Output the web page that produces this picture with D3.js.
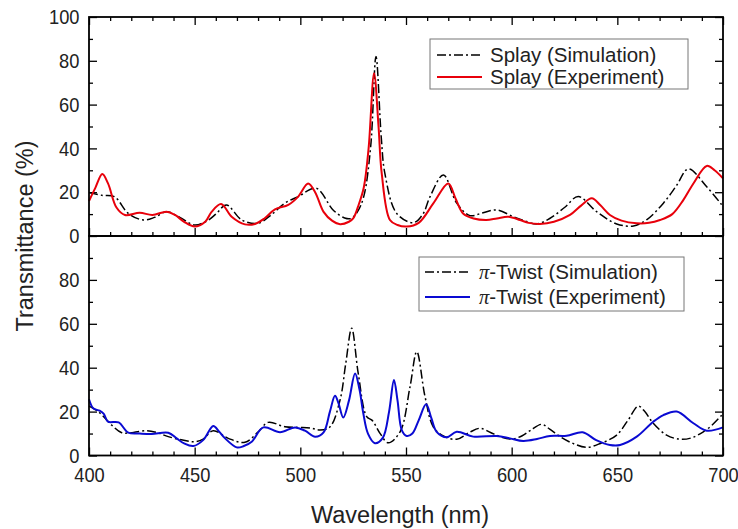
<!DOCTYPE html>
<html>
<head>
<meta charset="utf-8">
<script src="https://cdn.jsdelivr.net/npm/d3@7"></script>
<style>
  body { margin: 0; background: #fff; }
  svg { font-family: "Liberation Sans", Arial, sans-serif; }
  .tick text { fill: #222; }
</style>
</head>
<body>
<svg id="chart" width="738" height="529"></svg>
<script>
// wavelength (nm) / transmittance (%)
var splaySimWl = [400,406,412,418.6,425.7,431,436.7,443,450,456,460,465,472.3,480,486,492.7,499,507.5,515.5,521,524,527,530,533.3,535.8,538.3,540,545.6,553.5,558,561.4,567.7,574,580.3,586,592.9,600.8,606,611.8,618,625,631.5,640.2,649.7,657.6,664,671.8,678,683.6,692.3,700];
var splaySimT  = [19.8,18.6,18,10.3,7.3,8.5,11.1,8.5,5,7,10,14.2,7.3,5.8,9.5,15,18,21.8,11.9,8.2,8,11,18,41,82,45,28.6,10.3,6.1,10,18,27.9,15,9.3,10.5,11.9,8.8,7,5.5,8,13,18,11.1,5.5,4.6,7.5,15,23,30.6,22.5,13.5];

var splayExpWl = [400,403,406.3,409,413,417,424,430,436.7,440.7,445,450,455,458,462.5,467.5,473.8,478.5,483,488,494.3,499,503.7,507,511,515,518.8,523,525,527.3,530,532.3,534.9,537,538.5,542.4,546,550.3,556,563,570,573.5,577,582,588,593,598.4,604,608,613.4,620,627.6,633,637.9,642,646.5,652,659.2,665,670.2,676,681.2,686,692.3,696,700];
var splayExpT  = [16,22,28.3,24,13,9.6,10.6,9.6,11.1,9.6,6.5,4.3,6.5,11,14.6,8.8,5.3,5.5,8,12.2,14.2,18,24,20,11,7,5.4,6.5,8,13.4,22,40,74.3,50,28.7,7.3,5,4.3,6,15,24,17,10.3,8,7.3,8,8.8,7.3,6,5.5,6.5,9.6,14,17.2,14,9.6,7,5.8,6,7.3,10,16.4,24,32,30,26.3];

var twistSimWl = [400,404.4,410.7,415.5,421,427.3,432,437.5,445.4,450,454,458.8,465.9,473.8,480.1,484.8,492.7,499,505,509.3,514,518.8,521.5,524.3,527.4,531.4,534,537.7,541.6,547.2,551.9,555.1,559,562.9,567.7,574,580,585,590,594.5,600,605,609,614.2,618,622.9,629,635.5,642,649.7,655,659.9,663,667,673.3,679.7,685,690.7,695,700];
var twistSimT  = [22.5,20,13.9,10.4,10.5,11.3,10.5,8.6,6.8,6.3,7.5,11.3,7.8,6,10.8,15.1,13.1,12.8,12.5,11.6,13,25.3,42,58,37.4,17.7,16,10.1,5.8,10.8,31.3,47.3,26.8,13.1,8.9,7.4,10.5,12.4,10.5,8.6,7.5,9,11.5,14.2,12,8.6,5.5,3.7,5.5,9.3,16,22.5,20,14.7,9.3,7.4,8,10.8,14,19];

var twistExpWl = [400,402,405,407,409,414,418.6,424,429.7,437.5,441.5,445,449.4,454,458.8,461.5,464.4,469.9,473,477,482.5,490.4,497.5,502.2,507,511,514,516.4,518,520.3,523,525.9,528,529.8,532,535.3,539,542,544.3,546,548,550.3,553,556,559.5,562,564.5,569.2,574,581.8,592.9,599.2,605.5,612,618.1,626,633.6,640,646.5,651.3,659.2,667,671.8,678.1,686,692.3,700];
var twistExpT  = [25.6,21.5,20.4,19,15.4,15.1,10.4,10,9.8,10.4,7.8,5.5,4.3,7,13.4,11,7.8,3.7,4.2,6.3,12.8,10.6,12.8,11.3,8.5,10.5,20,27.2,24,17.3,25,37.4,30,19.2,10,5.6,8,20,34.4,25,11.6,8.9,10,16,23.3,17,10.8,8.3,10.8,8.6,8.9,7.8,6.6,7.5,8.9,9,10.6,7,4.8,4.8,8.6,15.4,18.4,20,14.7,11.3,12.8];

var xMajor = [400,450,500,550,600,650,700];
var yMajorTop = [0,20,40,60,80,100];
var yMajorBot = [0,20,40,60,80];

var svg = d3.select("#chart");
var pLeft = 89, pRight = 723, pTop = 17, pMid = 236, pBottom = 455.5;

var x = d3.scaleLinear().domain([400, 700]).range([pLeft, pRight]);
var yTop = d3.scaleLinear().domain([0, 100]).range([pMid, pTop]);
var yBot = d3.scaleLinear().domain([0, 100]).range([pBottom, pMid]);

var minorX = d3.range(400, 701, 10).filter(function(d){ return d % 50 != 0; });
var minorY = d3.range(0, 101, 10).filter(function(d){ return d % 20 != 0; });

function pts(wl, t) { return wl.map(function(w, i){ return [w, t[i]]; }); }

function drawLine(yScale, data, color, width, dash) {
  var line = d3.line()
    .x(function(d){ return x(d[0]); })
    .y(function(d){ return yScale(d[1]); })
    .curve(d3.curveCatmullRom.alpha(0.5));
  var p = svg.append("path")
    .datum(data)
    .attr("d", line)
    .attr("fill", "none")
    .attr("stroke", color)
    .attr("stroke-width", width)
    .attr("stroke-linejoin", "round");
  if (dash) p.attr("stroke-dasharray", dash);
}

function clean(g) { g.select(".domain").remove(); }

// tick labels in the picture are a bit narrow, so squeeze them horizontally
function styleLabels(g) {
  g.selectAll("text").attr("font-size", 21).attr("transform", "scale(0.87,1)");
}

// x axes
function xAxisAt(yPos, dir, labels) {
  // dir = +1 ticks downward, -1 ticks upward
  var major = svg.append("g").attr("transform", "translate(0," + yPos + ")")
    .call(d3.axisBottom(x).tickValues(xMajor).tickSize(8 * dir).tickPadding(12)
      .tickFormat(labels ? d3.format("d") : ""));
  var minor = svg.append("g").attr("transform", "translate(0," + yPos + ")")
    .call(d3.axisBottom(x).tickValues(minorX).tickSize(4 * dir).tickFormat(""));
  [major, minor].forEach(function(g){
    clean(g);
    g.selectAll("line").attr("stroke", "#000").attr("stroke-width", 1.3);
  });
  styleLabels(major);
}
xAxisAt(pTop, 1, false);
xAxisAt(pMid, -1, false);
xAxisAt(pBottom, -1, true);

// y axes
function yAxisAt(yScale, majorVals) {
  var l1 = svg.append("g").attr("transform", "translate(" + pLeft + ",0)")
    .call(d3.axisLeft(yScale).tickValues(majorVals).tickSize(-8).tickPadding(11));
  var l2 = svg.append("g").attr("transform", "translate(" + pLeft + ",0)")
    .call(d3.axisLeft(yScale).tickValues(minorY).tickSize(-4).tickFormat(""));
  var r1 = svg.append("g").attr("transform", "translate(" + pRight + ",0)")
    .call(d3.axisRight(yScale).tickValues(majorVals).tickSize(-8).tickFormat(""));
  var r2 = svg.append("g").attr("transform", "translate(" + pRight + ",0)")
    .call(d3.axisRight(yScale).tickValues(minorY).tickSize(-4).tickFormat(""));
  [l1, l2, r1, r2].forEach(function(g){
    clean(g);
    g.selectAll("line").attr("stroke", "#000").attr("stroke-width", 1.3);
  });
  styleLabels(l1);
}
yAxisAt(yTop, yMajorTop);
yAxisAt(yBot, yMajorBot);

// curves
drawLine(yTop, pts(splaySimWl, splaySimT), "#000", 1.5, "9,3,2,3");
drawLine(yTop, pts(splayExpWl, splayExpT), "#e8000b", 2, null);
drawLine(yBot, pts(twistSimWl, twistSimT), "#000", 1.5, "9,3,2,3");
drawLine(yBot, pts(twistExpWl, twistExpT), "#0a0ad2", 2, null);

// frames
svg.append("rect").attr("x", pLeft).attr("y", pTop).attr("width", pRight - pLeft).attr("height", pMid - pTop)
  .attr("fill", "none").attr("stroke", "#000").attr("stroke-width", 1.8);
svg.append("rect").attr("x", pLeft).attr("y", pMid).attr("width", pRight - pLeft).attr("height", pBottom - pMid)
  .attr("fill", "none").attr("stroke", "#000").attr("stroke-width", 1.8);

// legends
function legend(bx, by, bw, bh, lx, tx, rows) {
  svg.append("rect").attr("x", bx).attr("y", by).attr("width", bw).attr("height", bh)
    .attr("fill", "#fff").attr("stroke", "#777").attr("stroke-width", 1);
  rows.forEach(function(r){
    var ln = svg.append("line").attr("x1", lx).attr("x2", lx + 45).attr("y1", r.y).attr("y2", r.y)
      .attr("stroke", r.color).attr("stroke-width", r.width);
    if (r.dash) ln.attr("stroke-dasharray", r.dash);
    var t = svg.append("text").attr("x", tx).attr("y", r.y + 7).attr("font-size", 20.5).attr("fill", "#222");
    if (r.pi) {
      t.append("tspan").attr("font-family", "'Liberation Serif', 'DejaVu Serif', serif")
        .attr("font-style", "italic").text("\u03c0");
    }
    t.append("tspan").text(r.label);
  });
}
legend(430, 39, 258, 50, 437, 490, [
  { y: 55, color: "#000", width: 1.5, dash: "9,3,2,3", label: "Splay (Simulation)" },
  { y: 77, color: "#e8000b", width: 2, label: "Splay (Experiment)" }
]);
legend(419, 257, 265, 54, 425, 479, [
  { y: 272, color: "#000", width: 1.5, dash: "9,3,2,3", pi: true, label: "-Twist (Simulation)" },
  { y: 297, color: "#0a0ad2", width: 2, pi: true, label: "-Twist (Experiment)" }
]);

// axis titles
svg.append("text").attr("x", 400).attr("y", 523).attr("text-anchor", "middle")
  .attr("font-size", 23.5).attr("fill", "#222").text("Wavelength (nm)");
svg.append("text").attr("transform", "translate(33," + pMid + ") rotate(-90)")
  .attr("text-anchor", "middle").attr("font-size", 23.5).attr("fill", "#222").text("Transmittance (%)");
</script>
</body>
</html>
